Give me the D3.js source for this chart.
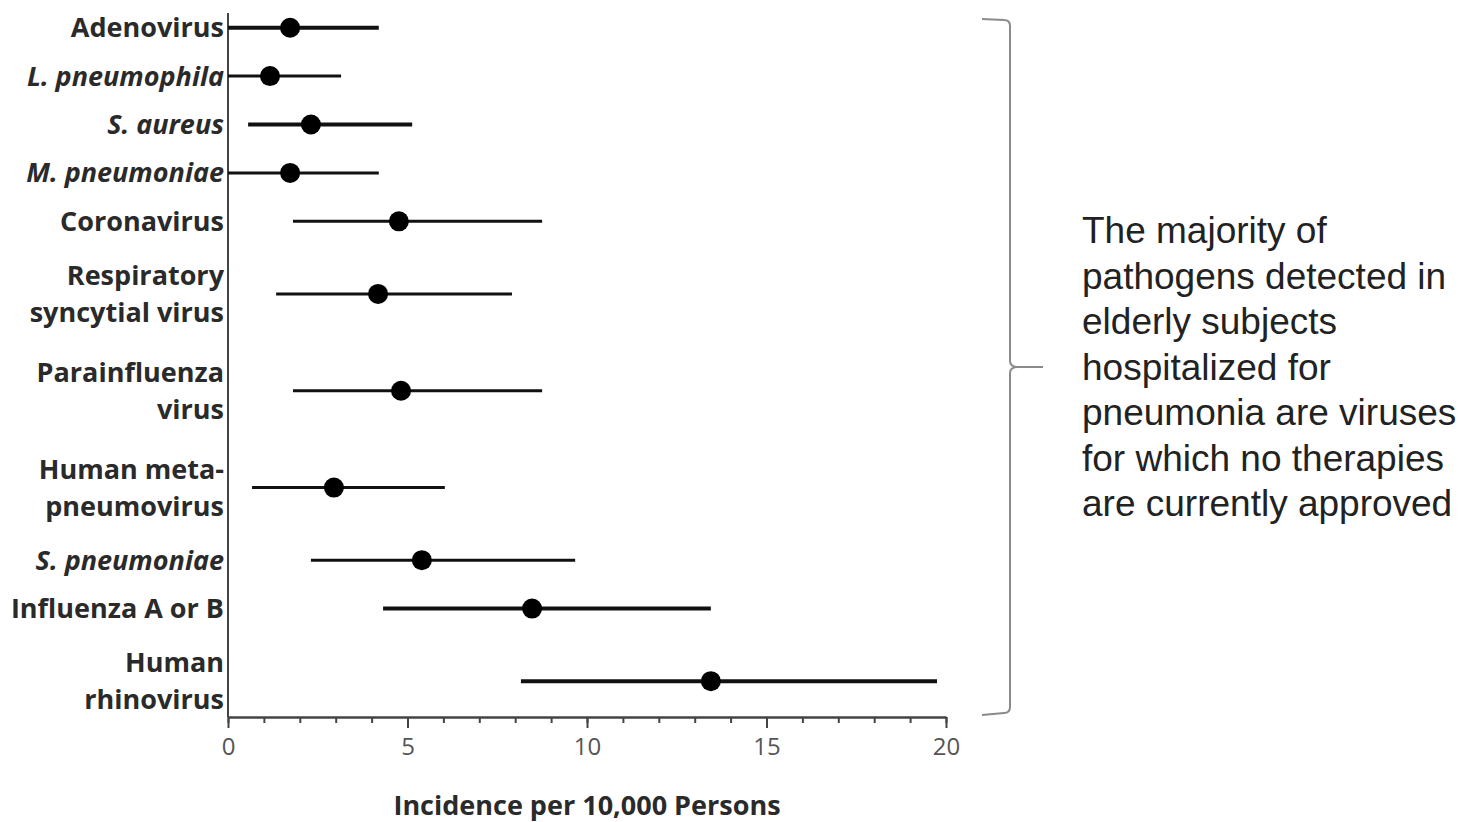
<!DOCTYPE html>
<html><head><meta charset="utf-8">
<script src="https://cdn.jsdelivr.net/npm/d3@7"></script>
<style>body{margin:0;background:#fff;} svg{display:block;}</style>
</head><body>
<svg id="c" width="1479" height="822"></svg>
<script>
// ---- data ----
const categories = [
  ["Adenovirus"],
  ["L. pneumophila"],
  ["S. aureus"],
  ["M. pneumoniae"],
  ["Coronavirus"],
  ["Respiratory", "syncytial virus"],
  ["Parainfluenza", "virus"],
  ["Human meta-", "pneumovirus"],
  ["S. pneumoniae"],
  ["Influenza A or B"],
  ["Human", "rhinovirus"]
];
const italicCats = ["L. pneumophila", "S. aureus", "M. pneumoniae", "S. pneumoniae"];
const estimate = [1.73, 1.17, 2.31, 1.73, 4.76, 4.18, 4.82, 2.95, 5.40, 8.47, 13.45];
const lower    = [0.0, 0.0, 0.56, 0.0, 1.81, 1.34, 1.81, 0.67, 2.31, 4.32, 8.16];
const upper    = [4.2, 3.15, 5.13, 4.2, 8.75, 7.91, 8.75, 6.04, 9.67, 13.45, 19.75];
const thickRows = ["S. aureus", "Influenza A or B", "Human rhinovirus", "Adenovirus"];
const xTicksMajor = [0, 5, 10, 15, 20];
const xTicksMinor = d3.range(0, 21, 1);
const xTitle = "Incidence per 10,000 Persons";
const noteLines = ["The majority of", "pathogens detected in", "elderly subjects",
  "hospitalized for", "pneumonia are viruses", "for which no therapies",
  "are currently approved"];

// ---- layout ----
const svg = d3.select("#c");
const x = d3.scaleLinear().domain([0, 20]).range([228, 946]);
// vertical position in "label line" units
let cum = 0;
const rowU = categories.map(lines => { const c = cum + lines.length / 2; cum += lines.length; return c; });
const axisY = 717;
const y = d3.scaleLinear().domain([0, 14.74]).range([3.5, axisY]);

const fontLab = "'Open Sans', 'Lato', sans-serif";

// y axis line
svg.append("line").attr("x1", x(0)).attr("x2", x(0)).attr("y1", 13).attr("y2", axisY)
  .attr("stroke", "#444").attr("stroke-width", 2);

// x axis minor
const gMinor = svg.append("g").attr("transform", `translate(0,${axisY})`)
  .call(d3.axisBottom(x).tickValues(xTicksMinor).tickSize(6).tickFormat("").tickSizeOuter(0));
gMinor.select(".domain").remove();
gMinor.selectAll("line").attr("stroke", "#444").attr("stroke-width", 2);
// x axis major
const gMajor = svg.append("g").attr("transform", `translate(0,${axisY})`)
  .call(d3.axisBottom(x).tickValues(xTicksMajor).tickSize(11).tickPadding(10).tickSizeOuter(0));
gMajor.select(".domain").attr("stroke", "#444").attr("stroke-width", 2.5);
gMajor.selectAll("line").attr("stroke", "#444").attr("stroke-width", 2);
gMajor.selectAll("text").attr("font-family", fontLab).attr("font-size", 24)
  .attr("fill", "#555");

// axis title
svg.append("text").attr("x", x(10)).attr("y", 815).attr("text-anchor", "middle")
  .attr("font-family", fontLab).attr("font-weight", "bold").attr("font-size", 27)
  .attr("fill", "#2a2a2a").text(xTitle);

// rows
const rows = categories.map((lines, i) => ({
  lines, name: lines.join(" "), u: rowU[i], est: estimate[i], lo: lower[i], hi: upper[i]
}));

const g = svg.append("g");
g.selectAll("line.ci").data(rows).join("line").attr("class", "ci")
  .attr("x1", d => x(d.lo)).attr("x2", d => x(d.hi))
  .attr("y1", d => y(d.u)).attr("y2", d => y(d.u))
  .attr("stroke", "#111")
  .attr("stroke-width", d => thickRows.includes(d.name) ? 4 : 3);
g.selectAll("circle").data(rows).join("circle")
  .attr("cx", d => x(d.est)).attr("cy", d => y(d.u)).attr("r", 10).attr("fill", "#000");

// category labels
const lineH = 37;
const lab = svg.append("g");
rows.forEach(d => {
  const n = d.lines.length;
  d.lines.forEach((t, j) => {
    lab.append("text")
      .attr("x", x(0) - 4)
      .attr("y", y(d.u) + (j - (n - 1) / 2) * lineH)
      .attr("dy", "0.35em")
      .attr("text-anchor", "end")
      .attr("font-family", fontLab).attr("font-weight", "bold").attr("font-size", 27)
      .attr("font-style", italicCats.includes(t) ? "italic" : "normal")
      .attr("fill", "#2a2a2a").text(t);
  });
});

// bracket
const bTop = 20, bBot = 713, bMid = 367, bx = 1010;
const bracket = `M982,${bTop-1} L1004,${bTop} Q${bx},${bTop} ${bx},${bTop+6} L${bx},${bMid-6} Q${bx},${bMid} 1018,${bMid} L1043,${bMid}
M1018,${bMid} Q${bx},${bMid} ${bx},${bMid+6} L${bx},${bBot-6} Q${bx},${bBot} 1004,${bBot} L982,${bBot+2}`;
svg.append("path").attr("d", bracket).attr("fill", "none").attr("stroke", "#8a8a8a").attr("stroke-width", 2);

// note
const note = svg.append("text").attr("font-family", "'Liberation Sans', Arial, sans-serif")
  .attr("font-size", 37).attr("fill", "#222");
noteLines.forEach((t, i) => {
  note.append("tspan").attr("x", 1082).attr("y", 243 + i * 45.5).text(t);
});
</script>
</body></html>
